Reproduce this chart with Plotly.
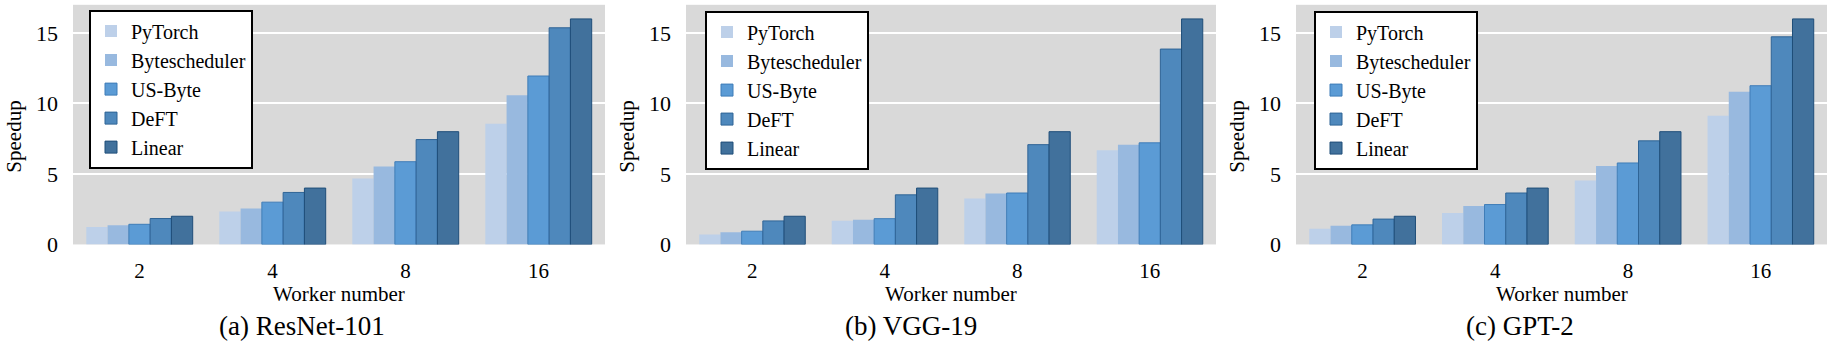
import plotly.graph_objects as go

workers = ["2", "4", "8", "16"]
series_names = ["PyTorch", "Bytescheduler", "US-Byte", "DeFT", "Linear"]

resnet_pytorch = [1.23, 2.34, 4.67, 8.56]
resnet_bytesch = [1.37, 2.55, 5.53, 10.58]
resnet_usbyte = [1.43, 3.0, 5.87, 11.95]
resnet_deft = [1.84, 3.69, 7.44, 15.37]
resnet_linear = [2, 4, 8, 16]

vgg_pytorch = [0.71, 1.69, 3.26, 6.69]
vgg_bytesch = [0.87, 1.76, 3.61, 7.08]
vgg_usbyte = [0.94, 1.83, 3.65, 7.21]
vgg_deft = [1.67, 3.52, 7.08, 13.86]
vgg_linear = [2, 4, 8, 16]

gpt_pytorch = [1.12, 2.24, 4.54, 9.13]
gpt_bytesch = [1.32, 2.72, 5.57, 10.84]
gpt_usbyte = [1.39, 2.83, 5.78, 11.26]
gpt_deft = [1.80, 3.65, 7.35, 14.73]
gpt_linear = [2, 4, 8, 16]

subtitles = ["(a) ResNet-101", "(b) VGG-19", "(c) GPT-2"]
panels = [
    [resnet_pytorch, resnet_bytesch, resnet_usbyte, resnet_deft, resnet_linear],
    [vgg_pytorch, vgg_bytesch, vgg_usbyte, vgg_deft, vgg_linear],
    [gpt_pytorch, gpt_bytesch, gpt_usbyte, gpt_deft, gpt_linear],
]

fills = ["#BDD0E9", "#98B9DF", "#5B9BD5", "#4E88BC", "#41719C"]
edges = ["#BDD0E9", "#98B9DF", "#3F7DB8", "#2F6496", "#1F4E79"]
edge_w = [0, 0, 1, 1, 1]

W, H = 1834, 346
FONT = "'Times New Roman', 'Liberation Serif', 'DejaVu Serif', serif"
xdoms = [(73, 605), (686, 1216), (1296, 1827)]
legend_pos = [(89, 10), (705, 11), (1314, 11)]
sub_cx = [302, 911, 1520]
ydom = [92 / H, 341 / H]

fig = go.Figure()
layout = dict(
    width=W, height=H, margin=dict(l=0, r=0, t=0, b=0),
    paper_bgcolor="white", plot_bgcolor="#D9D9D9",
    barmode="group", bargap=0.2, bargroupgap=0,
    font=dict(family=FONT, size=22, color="black"),
    annotations=[],
)

for p, data in enumerate(panels):
    ax = "" if p == 0 else str(p + 1)
    lg = "legend" if p == 0 else "legend" + str(p + 1)
    for s, vals in enumerate(data):
        fig.add_trace(go.Bar(
            x=workers, y=vals, name=series_names[s],
            marker=dict(color=fills[s], line=dict(color=edges[s], width=edge_w[s])),
            xaxis="x" + ax, yaxis="y" + ax, legend=lg,
            showlegend=True,
        ))
    x0, x1 = xdoms[p]
    layout["xaxis" + ax] = dict(
        domain=[x0 / W, x1 / W], anchor="y" + ax, type="category",
        showgrid=False, showline=False, zeroline=False, ticks="",
        tickfont=dict(size=21, family=FONT), ticklabelstandoff=12,
    )
    layout["yaxis" + ax] = dict(
        domain=ydom, anchor="x" + ax, range=[0, 17],
        tickvals=[0, 5, 10, 15], showgrid=True, gridcolor="white", gridwidth=2,
        zeroline=False, showline=False, ticks="",
        tickfont=dict(size=22, family=FONT), ticklabelstandoff=14,
    )
    lx, ly = legend_pos[p]
    layout[lg] = dict(
        x=lx / W, y=1 - ly / H, xanchor="left", yanchor="top",
        xref="paper", yref="paper",
        bgcolor="white", bordercolor="black", borderwidth=2,
        font=dict(size=20, family=FONT), tracegroupgap=0,
    )
    cx = (x0 + x1) / 2
    layout["annotations"] += [
        dict(text="Speedup", x=(x0 - 59) / W, y=1 - 142 / H, xref="paper", yref="paper",
             textangle=-90, showarrow=False, xanchor="center", yanchor="middle",
             font=dict(size=21, family=FONT)),
        dict(text="Worker number", x=cx / W, y=1 - 305 / H, xref="paper", yref="paper",
             showarrow=False, xanchor="center", yanchor="middle",
             font=dict(size=21, family=FONT)),
        dict(text=subtitles[p], x=sub_cx[p] / W, y=1 - 339 / H, xref="paper", yref="paper",
             showarrow=False, xanchor="center", yanchor="middle",
             font=dict(size=27, family=FONT)),
    ]

fig.update_layout(**layout)
fig.write_html("out.html", config={"displayModeBar": False},
               post_script="document.body.style.margin='0px';")
